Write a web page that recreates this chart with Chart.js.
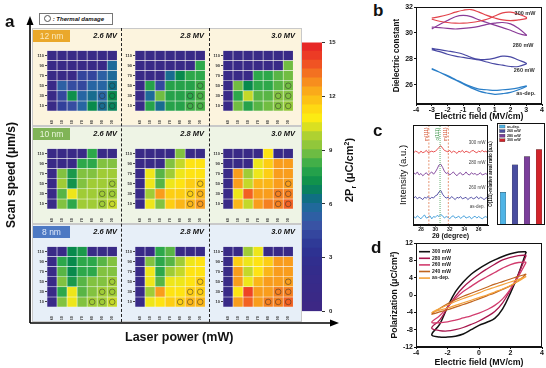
<!DOCTYPE html>
<html><head><meta charset="utf-8">
<script src="https://cdn.jsdelivr.net/npm/chart.js@4.4.0/dist/chart.umd.min.js"></script>
<style>
body{margin:0;width:546px;height:368px;background:#fff;position:relative;overflow:hidden;font-family:'Liberation Sans',Arial,sans-serif;color:#111;}
canvas{position:absolute;z-index:2;}
.band{position:absolute;left:32px;width:270px;height:98px;border:1px solid #c9c9c9;box-sizing:border-box;z-index:1;}
.tag{position:absolute;left:33px;width:37px;height:12px;font-size:8.5px;line-height:12px;text-align:center;z-index:3;}
.mv{position:absolute;font-size:7.5px;font-weight:bold;font-style:italic;text-align:right;width:40px;height:10px;line-height:10px;z-index:3;}
.dash{position:absolute;top:28px;height:294px;border-left:1.5px dashed #222;z-index:3;}
.plet{position:absolute;font-weight:bold;font-size:17px;line-height:17px;z-index:3;}
.rot{position:absolute;transform:translate(-50%,-50%) rotate(-90deg);white-space:nowrap;font-weight:bold;z-index:3;}
</style></head>
<body>
<div class="band" style="top:28px;background:#fcf4de"></div>
<div class="band" style="top:126px;background:#eef4e5"></div>
<div class="band" style="top:224px;background:#e7eff8"></div>
<svg style="position:absolute;left:0;top:0;z-index:3" width="346" height="368">
<line x1="30" y1="323" x2="30" y2="23" stroke="#000" stroke-width="1.6"/>
<polygon points="30,16 26.5,25 33.5,25" fill="#000"/>
<line x1="30" y1="323" x2="332" y2="323" stroke="#000" stroke-width="1.6"/>
<polygon points="339,323 330,319.5 330,326.5" fill="#000"/>
</svg>
<div class="plet" style="left:5px;top:13px">a</div>
<div class="plet" style="left:373px;top:2px">b</div>
<div class="plet" style="left:373px;top:122px">c</div>
<div class="plet" style="left:371px;top:239px">d</div>
<div style="position:absolute;left:39px;top:13px;width:74px;height:12px;border:1px solid #777;box-sizing:border-box;background:#fff;z-index:3;font-size:6px;font-weight:bold;font-style:italic;line-height:10px;white-space:nowrap;padding-left:4px">
<span style="display:inline-block;width:5px;height:5px;border:1px solid #555;border-radius:50%;vertical-align:-1px"></span> : Thermal damage</div>
<div class="tag" style="top:30px;background:#eaa82b;color:#fbe9bb">12 nm</div>
<div class="tag" style="top:128px;background:#80b457;color:#e9f6dc">10 nm</div>
<div class="tag" style="top:226px;background:#4d79c3;color:#dfe9fb">8 nm</div>
<div class="mv" style="left:77px;top:31px">2.6 MV</div>
<div class="mv" style="left:164px;top:31px">2.8 MV</div>
<div class="mv" style="left:255px;top:31px">3.0 MV</div>
<div class="mv" style="left:77px;top:129px">2.6 MV</div>
<div class="mv" style="left:164px;top:129px">2.8 MV</div>
<div class="mv" style="left:255px;top:129px">3.0 MV</div>
<div class="mv" style="left:77px;top:227px">2.6 MV</div>
<div class="mv" style="left:164px;top:227px">2.8 MV</div>
<div class="mv" style="left:255px;top:227px">3.0 MV</div>
<div class="dash" style="left:121px"></div>
<div class="dash" style="left:209px"></div>
<div class="rot" style="left:11px;top:175px;font-size:12px">Scan speed (μm/s)</div>
<div style="position:absolute;left:125px;top:330px;font-size:12.5px;font-weight:bold;white-space:nowrap;z-index:3">Laser power (mW)</div>
<div class="rot" style="left:350px;top:170px;font-size:11px">2P<sub style="font-size:7px">r</sub> (μC/cm<sup style="font-size:7px">2</sup>)</div>
<script>
// ---------- DATA ----------
const powers = ['240','250','260','270','280','290','300'];
const speeds = [110, 90, 70, 50, 30, 10]; // rows top -> bottom
// 2Pr (uC/cm2) heatmaps, rows = speeds, cols = powers
const nm12_26 = [[1,1,1,1,1,1,1],[1,1,1,1,1,1,5.8],[1,1,1,4.2,4.2,5.3,5.8],[1,5.3,4.5,4.3,5.5,5.5,6.2],[1,4.3,7.2,5.5,6,5.5,7],[1,4,4.5,5.5,7,6,6.8]];
const nm12_28 = [[1,1,1,1,1,1,1],[1,1,1,1,1,1,8],[1,1,1,6,7,8,8],[1,7.8,4.3,7.8,7.8,7.8,8.2],[1,5.8,8.8,7.8,7.8,8,8.3],[1,7.8,6,7.8,7.8,8.2,8.3]];
const nm12_30 = [[1,1,1,1,1,1,1],[1,1,1,1,1,1,8.8],[1,1,1,8,8,8.5,8.8],[1,8.8,7,8,8,8.5,8.8],[1,8,10,8.5,8.5,9,9],[1,8.8,7.8,8.5,8.8,9,9.3]];
const nm10_26 = [[1,1,1,1,8,1,1],[1,1,1,8,8,9,9],[1,9,7.5,9,9,9.5,9.5],[1,9.5,7.3,9,9.5,9.5,9.5],[1,8.5,10.5,9.5,9.5,9.5,9.5],[1,9,8,9.5,9.5,9.5,10]];
const nm10_28 = [[1,1,1,1,9,1,1],[1,1,1,9,10,11,11],[1,10.5,8.5,9.5,10.5,11,11],[1,10.5,8.5,10.5,11,11.5,11.5],[1,9.5,12.5,11.5,11.5,11.5,12],[1,10.5,9,11.5,12,12,12.5]];
const nm10_30 = [[1,1,1,1,11,1,1],[1,1,1,10.5,11.5,12.5,12.5],[1,12.5,9.5,10.5,11.5,12.5,12.5],[1,12.5,10,12,12,12.5,12.5],[1,10.5,13.5,12.5,12.5,13,13],[1,12,10,12.5,13,13,13.5]];
const nm8_26 = [[1,1,7,7.5,1,1,1],[1,8,7,8,8,8.5,9],[1,8.5,7,8,8,9,9],[1,9,7.5,8.5,9,9,9.5],[1,8,10.5,8.5,9,9.5,9.5],[1,9,10.5,9,9.5,9.5,10]];
const nm8_28 = [[1,1,8,8.5,1,1,1],[1,9,8,8.5,9.5,10.5,11],[1,10.5,8,9.5,10,11,11],[1,10.5,8.5,10.5,10.5,11,11.5],[1,9.5,12.5,11,11,11.5,11.5],[1,10.5,11,11.5,11.5,12,12]];
const nm8_30 = [[1,1,9.5,10.5,1,1,1],[1,11.5,10.5,11,11.5,12.5,12.5],[1,12.5,10,11,12,12.5,12.5],[1,12.5,10.5,12,12.5,12.5,12.5],[1,11,14,12.5,12.5,13,13],[1,12.5,13.5,12.5,13,13,13.5]];
const damage12 = [[300,50],[290,30],[300,30],[290,10],[300,10]];
const damage10 = [[300,50],[290,30],[300,30],[290,10],[300,10]];
const damage8 = [[300,50],[290,30],[300,30],[280,10],[290,10],[300,10]];
const cbTicks = [0,3,6,9,12,15];
// panel b
const bField = [-3,-2.5,-2,-1.5,-1,-0.5,0,0.5,1,1.5,2,2.5,3,3,2.5,2,1.5,1,0.5,0,-0.5,-1,-1.5,-2,-2.5,-3];
const b300 = [31.15,31.25,31.4,31.6,31.75,31.8,31.6,31.35,31.15,31.0,30.95,31.0,31.1,31.2,31.45,31.6,31.55,31.3,31.05,30.9,30.8,30.75,30.75,30.8,30.9,31.05];
const b280 = [30.3,30.65,30.95,31.25,31.35,31.25,31.0,30.8,30.6,30.4,30.2,29.95,29.8,29.85,30.35,30.7,30.8,30.75,30.65,30.5,30.4,30.35,30.3,30.35,30.4,30.45];
const b260 = [28.8,28.7,28.6,28.5,28.35,28.1,27.95,27.95,28.05,28.2,28.15,27.9,27.65,27.6,27.4,27.4,27.5,27.6,27.75,27.9,28.0,28.1,28.2,28.35,28.55,28.7];
const bAsdep = [27.25,26.95,26.65,26.35,26.05,25.75,25.5,25.35,25.25,25.3,25.4,25.6,25.85,25.9,25.75,25.65,25.6,25.55,25.6,25.65,25.85,26.1,26.4,26.7,26.95,27.2];
const bXTicks = [-4,-3,-2,-1,0,1,2,3,4];
const bYTicks = [26,28,30,32];
// panel c
const xrdTheta = [27,27.25,27.5,27.75,28,28.25,28.5,28.75,29,29.25,29.5,29.75,30,30.25,30.5,30.75,31,31.25,31.5,31.75,32,32.25,32.5,32.75,33,33.25,33.5,33.75,34,34.25,34.5,34.75,35,35.25,35.5,35.75,36,36.25,36.5,36.75,37,37.25];
const xrdAsdep = [0.1,-0.1,0.2,0.0,-0.2,0.1,0.3,-0.1,0.0,0.2,-0.2,0.1,0.0,0.25,0.1,0.35,0.2,-0.1,0.1,0.0,-0.2,0.1,0.2,-0.1,0.0,0.15,-0.15,0.05,0.2,-0.1,0.0,0.1,-0.2,0.0,0.15,-0.1,0.1,-0.05,-0.2,0.0,0.1,-0.1];
const xrd260 = [2.5,2.7,2.4,2.6,2.5,2.3,2.6,2.5,2.7,2.4,2.6,2.5,2.8,2.9,3.3,3.5,3.0,2.7,2.5,2.6,2.4,2.7,2.5,2.3,2.6,2.5,2.7,2.4,2.5,2.6,2.3,2.5,2.6,2.4,2.5,2.7,2.4,2.6,2.5,2.3,2.5,2.6];
const xrd280 = [5.8,5.6,5.9,5.5,5.7,5.4,5.6,5.8,5.5,5.7,5.9,5.6,5.9,6.3,6.8,6.9,6.5,6.0,5.7,5.8,5.5,5.7,5.9,5.6,5.4,5.7,5.8,5.5,5.6,5.9,5.6,5.5,5.8,5.6,5.7,5.5,5.6,5.8,5.5,5.6,5.7,5.5];
const xrd300 = [8.4,8.6,8.5,8.3,8.6,8.4,8.5,8.7,8.4,8.5,8.6,8.5,8.6,8.8,9.1,9.3,9.0,8.7,8.6,8.5,8.7,8.4,8.6,8.5,8.3,8.6,8.5,8.7,8.4,8.6,8.5,8.4,8.6,8.7,8.5,8.4,8.6,8.5,8.7,8.5,8.6,8.4];
const xrdXTicks = [28,30,32,34,36];
const phaseLines = [29.1, 30.65, 31.8];
const phaseNames = ['m(111)','o(111)','m(111)'];
const ratioLabels = ['as-dep.','260 mW','280 mW','300 mW'];
const ratioValues = [0.32,0.59,0.67,0.74];
// panel d
const dField = [3,2.5,2,1.5,1,0.5,0,-0.5,-1,-1.5,-2,-2.5,-3,-2.5,-2,-1.5,-1,-0.5,0,0.5,1,1.5,2,2.5,3];
const d300 = [10.0,9.9,9.5,8.9,8.1,7.2,6.1,4.8,3.0,0.7,-2.8,-6.8,-9.2,-9.7,-9.7,-9.5,-9.0,-8.0,-7.0,-6.3,-5.4,-3.2,0.5,4.8,10.0];
const d280 = [9.2,9.1,8.7,8.1,7.1,6.0,4.8,3.4,1.8,-0.3,-3.0,-5.8,-7.6,-8.2,-8.3,-8.0,-7.5,-6.8,-6.0,-5.0,-3.8,-1.8,1.2,4.8,9.2];
const d260 = [7.6,7.5,7.0,6.2,5.2,4.2,3.2,2.0,0.8,-0.8,-2.8,-4.8,-6.3,-6.4,-6.2,-5.8,-5.3,-4.8,-4.2,-3.4,-2.4,-0.9,1.4,4.3,7.6];
const d240 = [4.8,4.3,3.7,3.1,2.5,1.8,1.1,0.4,-0.3,-1.1,-2.0,-3.1,-4.4,-3.9,-3.4,-2.8,-2.2,-1.6,-0.9,-0.2,0.5,1.3,2.1,3.3,4.8];
const dAsdep = [4.3,3.6,3.0,2.4,1.8,1.2,0.5,-0.2,-0.8,-1.5,-2.3,-3.1,-4.0,-3.5,-3.0,-2.4,-1.8,-1.2,-0.6,0.0,0.7,1.4,2.2,3.2,4.3];
const dLabels = ['300 mW','280 mW','260 mW','240 mW','as-dep.'];
const dXTicks = [-4,-2,0,2,4];
const dYTicks = [-12,-8,-4,0,4,8,12];

// ---------- STYLE / HELPERS ----------
Chart.defaults.font.family = "'Liberation Sans', Arial, sans-serif";
Chart.defaults.animation = false;
Chart.defaults.plugins.legend.display = false;
Chart.defaults.plugins.tooltip.enabled = false;

const cstops = [[0,[62,40,132]],[2.5,[50,44,140]],[3.5,[45,52,148]],[4.8,[57,84,165]],[5.6,[37,103,163]],[6.3,[14,112,128]],[7,[8,138,76]],[8,[45,168,74]],[9,[130,194,64]],[9.8,[178,210,48]],[10.4,[232,228,28]],[10.8,[255,236,18]],[11.5,[253,206,20]],[12.3,[250,168,26]],[13,[245,128,32]],[14,[238,68,36]],[15,[228,30,38]]];
function cmap(v){
  if(v<=cstops[0][0]) return 'rgb('+cstops[0][1].join(',')+')';
  for(let i=1;i<cstops.length;i++){
    if(v<=cstops[i][0]){
      const [a,ca]=cstops[i-1],[b,cb]=cstops[i]; const t=(v-a)/(b-a);
      return 'rgb('+ca.map((c,k)=>Math.round(c+(cb[k]-c)*t)).join(',')+')';
    }
  }
  return 'rgb('+cstops[cstops.length-1][1].join(',')+')';
}
function mk(l,t,w,h){const c=document.createElement('canvas');c.width=w;c.height=h;c.style.left=l+'px';c.style.top=t+'px';c.style.width=w+'px';c.style.height=h+'px';document.body.appendChild(c);return c;}
const fixTicks = arr => s => { s.ticks = arr.map(v=>({value:v})); };

const framePlugin = {id:'frame', afterDraw(chart,args,o){ if(!o||!o.color) return; const a=chart.chartArea,ctx=chart.ctx; ctx.save(); ctx.strokeStyle=o.color; ctx.lineWidth=o.width||1; ctx.strokeRect(Math.round(a.left)+0.5,Math.round(a.top)+0.5,Math.round(a.right-a.left)-1,Math.round(a.bottom-a.top)-1); ctx.restore(); }};
const notesPlugin = {id:'notes', afterDatasetsDraw(chart,args,o){ if(!o||!o.items) return; const ctx=chart.ctx;
  o.items.forEach(n=>{ const x=chart.scales.x.getPixelForValue(n.x), y=chart.scales.y.getPixelForValue(n.y);
    ctx.save(); ctx.font=n.font; ctx.fillStyle=n.color; ctx.textAlign=n.align||'center'; ctx.textBaseline='middle';
    ctx.translate(x,y); if(n.rot) ctx.rotate(n.rot); ctx.fillText(n.text,0,0); ctx.restore(); }); }};
const legendIn = {id:'legendIn', afterDraw(chart,args,o){ if(!o||!o.items) return; const a=chart.chartArea,ctx=chart.ctx;
  o.items.forEach((it,i)=>{ const y=a.top+o.y+i*o.dy, x=a.left+o.x; ctx.save();
    if(o.kind==='line'){ctx.strokeStyle=it.color;ctx.lineWidth=1.6;ctx.beginPath();ctx.moveTo(x,y);ctx.lineTo(x+o.sw,y);ctx.stroke();}
    else {ctx.fillStyle=it.color;ctx.fillRect(x,y-o.sh/2,o.sw,o.sh);ctx.strokeStyle='#333';ctx.lineWidth=0.3;ctx.strokeRect(x,y-o.sh/2,o.sw,o.sh);}
    ctx.fillStyle='#222';ctx.font=o.font;ctx.textBaseline='middle';ctx.textAlign='left';ctx.fillText(it.text,x+o.sw+2,y); ctx.restore(); }); }};
Chart.register(framePlugin, notesPlugin, legendIn);

// ---------- PANEL a: HEATMAPS ----------
function heat(left, top, matrix, damage){
  const W=71,H=64,YW=14,XH=13;
  const c = mk(left-YW, top, W+YW, H+XH);
  const ds = speeds.map((s,i)=>({type:'bar', data:powers.map(()=>[s-10,s+10]), backgroundColor:matrix[i].map(cmap),
    borderColor:'rgba(255,255,255,0.6)', borderWidth:0.6, borderSkipped:false, grouped:false, barPercentage:1, categoryPercentage:1, order:2}));
  ds.push({type:'line', data:damage.map(([p,s])=>({x:String(p),y:s})), showLine:false, pointStyle:'circle', pointRadius:2.8,
    pointBorderWidth:0.9, pointBorderColor:'rgba(45,45,45,0.55)', pointBackgroundColor:'rgba(0,0,0,0)', order:0});
  new Chart(c,{type:'bar', data:{labels:powers, datasets:ds}, options:{responsive:false, devicePixelRatio:1,
    layout:{padding:0, autoPadding:false},
    scales:{
      x:{type:'category', offset:true, grid:{display:false}, border:{display:false},
         ticks:{font:{size:4,weight:'bold'}, color:'#333', maxRotation:90, minRotation:90, autoSkip:false, padding:1},
         afterFit:s=>{s.height=XH;}},
      y:{type:'linear', min:0, max:120, grid:{drawOnChartArea:false, tickLength:2, color:'#444'}, border:{display:false},
         ticks:{font:{size:4,weight:'bold'}, color:'#333', padding:1}, afterBuildTicks:fixTicks(speeds), afterFit:s=>{s.width=YW;}}
    }}});
}
const colsX = [47,135,223], rowsY = [47,145,243];
heat(colsX[0],rowsY[0],nm12_26,damage12); heat(colsX[1],rowsY[0],nm12_28,damage12); heat(colsX[2],rowsY[0],nm12_30,damage12);
heat(colsX[0],rowsY[1],nm10_26,damage10); heat(colsX[1],rowsY[1],nm10_28,damage10); heat(colsX[2],rowsY[1],nm10_30,damage10);
heat(colsX[0],rowsY[2],nm8_26,damage8);  heat(colsX[1],rowsY[2],nm8_28,damage8);  heat(colsX[2],rowsY[2],nm8_30,damage8);

// colorbar
(function(){
  const c = mk(302,35,42,284);
  const bands=[]; for(let v=cbTicks[0]; v<cbTicks[cbTicks.length-1]; v+=0.5) bands.push(v);
  new Chart(c,{type:'bar', data:{labels:[''], datasets:bands.map(b=>({data:[[b,b+0.53]], backgroundColor:cmap(b+0.25), borderWidth:0, grouped:false, barPercentage:1, categoryPercentage:1}))},
   options:{responsive:false, devicePixelRatio:1, layout:{padding:{top:6,bottom:7,left:0,right:0}, autoPadding:false},
    scales:{x:{display:false},
     y:{position:'right', min:0, max:15, afterBuildTicks:fixTicks(cbTicks), ticks:{font:{size:6,weight:'bold'}, color:'#222', padding:4},
        grid:{drawOnChartArea:false, tickLength:3, color:'#333'}, border:{display:false}, afterFit:s=>{s.width=22;}}}}});
})();

// ---------- PANEL b ----------
const pts = (X,Y)=>X.map((x,i)=>({x:x,y:Y[i]}));
const lineDs = (label,X,Y,color,w)=>({label, data:pts(X,Y), borderColor:color, backgroundColor:color, showLine:true, tension:0.4, pointRadius:0, borderWidth:w||1.2});
const axisFont = {size:7, weight:'bold'};
new Chart(mk(386,0,160,124),{type:'scatter', data:{datasets:[
    lineDs('300 mW',bField,b300,'#e2434b'), lineDs('280 mW',bField,b280,'#8a3c98'),
    lineDs('260 mW',bField,b260,'#4848a3'), lineDs('as-dep.',bField,bAsdep,'#2b7fc8')]},
  options:{responsive:false, devicePixelRatio:1, layout:{padding:{top:7,right:4,left:0,bottom:0}, autoPadding:false},
   plugins:{frame:{color:'#111',width:1}, notes:{items:[
     {x:2.92,y:31.5,text:'300 mW',font:'bold 5.5px Liberation Sans',color:'#333'},
     {x:2.8,y:29.0,text:'280 mW',font:'bold 5.5px Liberation Sans',color:'#333'},
     {x:2.87,y:27.1,text:'260 mW',font:'bold 5.5px Liberation Sans',color:'#333'},
     {x:2.98,y:25.3,text:'as-dep.',font:'bold 5.5px Liberation Sans',color:'#333'}]}},
   scales:{
    x:{type:'linear', min:-4, max:4, afterBuildTicks:fixTicks(bXTicks), ticks:{font:axisFont,color:'#111',padding:0},
       grid:{drawOnChartArea:false,tickLength:2,color:'#111'}, border:{color:'#111'},
       title:{display:true,text:'Electric field (MV/cm)',font:{size:8.8,weight:'bold'},color:'#111',padding:{top:0,bottom:1.8}},
       afterFit:s=>{s.height=20;}},
    y:{type:'linear', min:24.5, max:32, afterBuildTicks:fixTicks(bYTicks), ticks:{font:axisFont,color:'#111',padding:1},
       grid:{drawOnChartArea:false,tickLength:2,color:'#111'}, border:{color:'#111'},
       title:{display:true,text:'Dielectric constant',font:{size:8.2,weight:'bold'},color:'#111',padding:{top:6,bottom:0}},
       afterFit:s=>{s.width=30;}}}}});

// ---------- PANEL c: XRD ----------
const vline = (x,color,dash)=>({data:[{x:x,y:-1},{x:x,y:12}], borderColor:color, showLine:true, pointRadius:0, borderWidth:0.8, borderDash:dash});
new Chart(mk(392,118,98,125),{type:'scatter', data:{datasets:[
    vline(phaseLines[0],'#e07a50',[2,1.5]), vline(phaseLines[1],'#3d9a4a',[1,1]), vline(phaseLines[2],'#e07a50',[2,1.5]),
    {...lineDs('300 mW',xrdTheta,xrd300,'#e5403f',0.9), tension:0},
    {...lineDs('280 mW',xrdTheta,xrd280,'#7d3f98',0.9), tension:0},
    {...lineDs('260 mW',xrdTheta,xrd260,'#4b47a0',0.9), tension:0},
    {...lineDs('as-dep.',xrdTheta,xrdAsdep,'#3a9ad8',0.9), tension:0}]},
  options:{responsive:false, devicePixelRatio:1, layout:{padding:{top:7,right:2,left:0,bottom:0}, autoPadding:false},
   plugins:{frame:{color:'#111',width:1}, notes:{items:[
     {x:35.8,y:9.65,text:'300 mW',font:'4.5px Liberation Sans',color:'#444'},
     {x:35.8,y:7.05,text:'280 mW',font:'4.5px Liberation Sans',color:'#444'},
     {x:35.8,y:3.8,text:'260 mW',font:'4.5px Liberation Sans',color:'#444'},
     {x:35.8,y:1.35,text:'as-dep.',font:'4.5px Liberation Sans',color:'#444'},
     {x:phaseLines[0]-0.3,y:10.8,text:phaseNames[0],font:'4.5px Liberation Sans',color:'#d2502e',rot:-Math.PI/2},
     {x:phaseLines[1]-0.3,y:10.8,text:phaseNames[1],font:'4.5px Liberation Sans',color:'#2f8c3c',rot:-Math.PI/2},
     {x:phaseLines[2]-0.3,y:10.8,text:phaseNames[2],font:'4.5px Liberation Sans',color:'#d2502e',rot:-Math.PI/2}]}},
   scales:{
    x:{type:'linear', min:26.9, max:37.3, afterBuildTicks:fixTicks(xrdXTicks), ticks:{font:{size:5,weight:'bold'},color:'#111',padding:0},
       grid:{drawOnChartArea:false,tickLength:1.5,color:'#111'}, border:{color:'#111'},
       title:{display:true,text:'2θ (degree)',font:{size:7,weight:'bold'},color:'#111',padding:{top:0,bottom:2.5}},
       afterFit:s=>{s.height=18;}},
    y:{type:'linear', min:-1, max:12, ticks:{display:false}, grid:{display:false}, border:{color:'#111'},
       title:{display:true,text:'Intensity (a.u.)',font:{size:9.5},color:'#111',padding:{top:5.2,bottom:0}},
       afterFit:s=>{s.width=21;}}}}});

// ---------- PANEL c: ratio bars ----------
const ratioColors = ['#4fb4e6','#4a4ea0','#7b3f9b','#d2232a'];
new Chart(mk(486,118,60,110),{type:'bar', data:{labels:ratioLabels, datasets:[{data:ratioValues, backgroundColor:ratioColors,
    borderColor:'#333', borderWidth:0.3, barThickness:5.5}]},
  options:{responsive:false, devicePixelRatio:1, layout:{padding:{top:5,right:1,left:0,bottom:3}, autoPadding:false},
   plugins:{frame:{color:'#111',width:1}, legendIn:{kind:'rect', x:2.5, y:3.5, dy:4.6, sw:5.5, sh:3, font:'bold 3.6px Liberation Sans',
     items:ratioLabels.map((t,i)=>({text:t,color:ratioColors[i]}))}},
   scales:{x:{display:false},
    y:{min:0, max:1, ticks:{display:false}, grid:{display:false}, border:{display:false},
       title:{display:true,text:'O(111)-relative areal ratio (a.u.)',font:{size:4.5,weight:'bold'},color:'#111',padding:{top:2.3,bottom:0}},
       afterFit:s=>{s.width=11;}}}}});

// ---------- PANEL d ----------
const dColors = ['#111111','#a8174e','#d23c6e','#c0651f','#f4a33c'];
new Chart(mk(386,236,160,132),{type:'scatter', data:{datasets:[
    lineDs(dLabels[4],dField,dAsdep,dColors[4],1.2), lineDs(dLabels[3],dField,d240,dColors[3],1.2),
    lineDs(dLabels[2],dField,d260,dColors[2],1.3), lineDs(dLabels[1],dField,d280,dColors[1],1.3),
    lineDs(dLabels[0],dField,d300,dColors[0],1.5)]},
  options:{responsive:false, devicePixelRatio:1, layout:{padding:{top:7,right:4,left:0,bottom:0}, autoPadding:false},
   plugins:{frame:{color:'#111',width:1}, legendIn:{kind:'line', x:3, y:8.7, dy:6.6, sw:11, sh:0, font:'bold 5px Liberation Sans',
     items:dLabels.map((t,i)=>({text:t,color:dColors[i]}))}},
   scales:{
    x:{type:'linear', min:-4, max:4, afterBuildTicks:fixTicks(dXTicks), ticks:{font:axisFont,color:'#111',padding:0},
       grid:{drawOnChartArea:false,tickLength:2,color:'#111'}, border:{color:'#111'},
       title:{display:true,text:'Electric field (MV/cm)',font:{size:8.8,weight:'bold'},color:'#111',padding:{top:0,bottom:0.5}},
       afterFit:s=>{s.height=21;}},
    y:{type:'linear', min:-12, max:12, afterBuildTicks:fixTicks(dYTicks), ticks:{font:axisFont,color:'#111',padding:1},
       grid:{drawOnChartArea:false,tickLength:2,color:'#111'}, border:{color:'#111'},
       title:{display:true,text:'Polarization (μC/cm²)',font:{size:8.7,weight:'bold'},color:'#111',padding:{top:3.8,bottom:0}},
       afterFit:s=>{s.width=30;}}}}});
</script>
</body></html>
